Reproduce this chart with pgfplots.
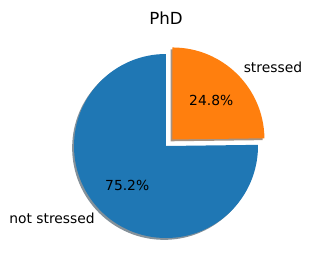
\documentclass[border=0pt]{standalone}
\usepackage{pgfplots}
\pgfplotsset{compat=1.18}
\usepackage{fontspec}
\setmainfont{DejaVu Sans}
\definecolor{c0}{HTML}{1F77B4}
\definecolor{c1}{HTML}{FF7F0E}
\definecolor{s0}{RGB}{9,36,54}
\definecolor{s1}{RGB}{77,38,4}
% data: percentages
\def\vNot{75.2}
\def\vStr{24.8}
\begin{document}
\begin{tikzpicture}
\pgfmathsetmacro{\aEnd}{90+3.6*\vNot}
\pgfmathsetmacro{\bStart}{\aEnd-360}
\pgfmathsetmacro{\mA}{90+1.8*\vNot}
\pgfmathsetmacro{\mB}{\bStart+1.8*\vStr}
\pgfmathsetmacro{\ex}{0.1*cos(\mB)}
\pgfmathsetmacro{\ey}{0.1*sin(\mB)}
\pgfmathsetmacro{\bx}{\ex+cos(\bStart)}
\pgfmathsetmacro{\by}{\ey+sin(\bStart)}
\pgfmathsetmacro{\sx}{\ex-0.02}
\pgfmathsetmacro{\sy}{\ey-0.02}
\pgfmathsetmacro{\sbx}{\bx-0.02}
\pgfmathsetmacro{\sby}{\by-0.02}
\begin{axis}[x=92bp,y=92bp,xmin=-1.8043,xmax=1.5870,ymin=-1.3804,ymax=1.5870,
  hide axis, clip=false]
\path (rel axis cs:0,0) rectangle (rel axis cs:1,1);
% shadows
\fill[s0,opacity=0.5] (axis cs:-0.02,-0.02) -- (axis cs:-0.02,0.98) arc[start angle=90,end angle=\aEnd,radius=92bp] -- cycle;
\fill[s1,opacity=0.5] (axis cs:\sx,\sy) -- (axis cs:\sbx,\sby) arc[start angle=\bStart,end angle=90,radius=92bp] -- cycle;
% wedges
\fill[c0] (axis cs:0,0) -- (axis cs:0,1) arc[start angle=90,end angle=\aEnd,radius=92bp] -- cycle;
\fill[c1] (axis cs:\ex,\ey) -- (axis cs:\bx,\by) arc[start angle=\bStart,end angle=90,radius=92bp] -- cycle;
% labels
\node[anchor=base,font=\fontsize{16.7}{20}\selectfont] at (axis cs:0,1.3207) {PhD};
\node[anchor=west,inner sep=0pt,font=\fontsize{13.9}{16}\selectfont] at (axis cs:{1.2*cos(\mB)},{1.2*sin(\mB)}) {stressed};
\node[anchor=east,inner sep=0pt,font=\fontsize{13.9}{16}\selectfont] at (axis cs:{1.1*cos(\mA)},{1.1*sin(\mA)}) {not stressed};
\node[inner sep=0pt,font=\fontsize{13.9}{16}\selectfont] at (axis cs:{\ex+0.6*cos(\mB)},{\ey+0.6*sin(\mB)}) {24.8\%};
\node[inner sep=0pt,font=\fontsize{13.9}{16}\selectfont] at (axis cs:{0.6*cos(\mA)},{0.6*sin(\mA)}) {75.2\%};
\end{axis}
\end{tikzpicture}
\end{document}
